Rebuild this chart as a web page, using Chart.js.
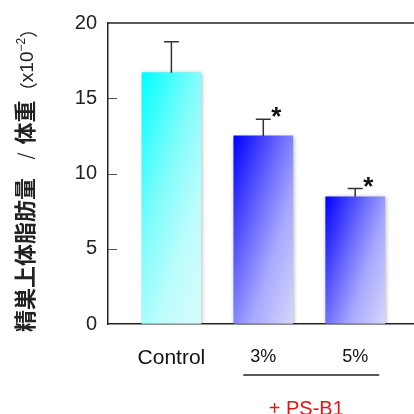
<!DOCTYPE html>
<html>
<head>
<meta charset="utf-8">
<script src="https://cdn.jsdelivr.net/npm/chart.js@4"></script>
<style>
  html, body { margin: 0; padding: 0; background: #fff; overflow: hidden; }
  #wrap { width: 414px; height: 414px; }
</style>
</head>
<body>
<div id="wrap"><canvas id="chart" width="414" height="414"></canvas></div>
<script>
const categories = ['Control', '3%', '5%'];
const xPositions = [1, 2, 3];
const means = [16.7, 12.5, 8.45];
const errors = [2.05, 1.1, 0.55];
const marks = ['', '*', '*'];
const yTicks = [0, 5, 10, 15, 20];

const INK = '#222';
const BAR_W = 59;

const cyanStops = [[0, '#00ffff'], [0.4, '#7ffcfc'], [0.7, '#bdfdfd'], [1, '#d8fbfb']];
const blueStops = [[0, '#0000ff'], [0.4, '#6a6aff'], [0.65, '#a8a8ff'], [1, '#d6d6f9']];

function barFill(ctx) {
  const chart = ctx.chart;
  const i = ctx.dataIndex;
  if (i === undefined || !chart.chartArea) return '#88f';
  const { x, y } = chart.scales;
  const left = x.getPixelForValue(xPositions[i]) - BAR_W / 2;
  const top = y.getPixelForValue(means[i]);
  const h = y.getPixelForValue(0) - top;
  const dx = 0.95, dy = 0.31;
  const L = BAR_W * dx + h * dy;
  const g = chart.ctx.createLinearGradient(left, top, left + dx * L, top + dy * L);
  (i === 0 ? cyanStops : blueStops).forEach(s => g.addColorStop(s[0], s[1]));
  return g;
}

const decor = {
  id: 'decor',
  beforeDatasetsDraw(chart) {
    const c = chart.ctx;
    c.save();
    c.shadowColor = 'rgba(0,0,0,0.3)';
    c.shadowBlur = 4;
    c.shadowOffsetX = 1;
    c.shadowOffsetY = 1;
  },
  afterDatasetsDraw(chart) {
    const c = chart.ctx;
    c.restore();
    const { x, y } = chart.scales;
    const area = chart.chartArea;

    // frame top + inner ticks
    c.save();
    c.strokeStyle = INK;
    c.lineWidth = 1.5;
    c.beginPath();
    c.moveTo(area.left, area.top);
    c.lineTo(area.right, area.top);
    c.stroke();
    c.lineWidth = 1;
    c.strokeStyle = '#555';
    yTicks.slice(1, -1).forEach(v => {
      const py = Math.round(y.getPixelForValue(v)) + 0.5;
      c.beginPath();
      c.moveTo(area.left, py);
      c.lineTo(area.left + 9, py);
      c.stroke();
    });

    // error bars + significance marks
    c.strokeStyle = '#333';
    c.lineWidth = 1.5;
    means.forEach((m, i) => {
      const cx = x.getPixelForValue(xPositions[i]);
      const y0 = y.getPixelForValue(m);
      const y1 = y.getPixelForValue(m + errors[i]);
      c.beginPath();
      c.moveTo(cx, y0);
      c.lineTo(cx, y1);
      c.moveTo(cx - 7.5, y1);
      c.lineTo(cx + 7.5, y1);
      c.stroke();
      if (marks[i]) {
        c.fillStyle = '#111';
        c.font = 'bold 26px "Liberation Sans"';
        c.textAlign = 'center';
        c.textBaseline = 'alphabetic';
        const mt = c.measureText(marks[i]);
        const base = y1 - 7 + (mt.actualBoundingBoxAscent - mt.actualBoundingBoxDescent) / 2;
        c.fillText(marks[i], cx + 13, base);
      }
    });
    c.restore();
  },
  afterDraw(chart) {
    const c = chart.ctx;
    const { x } = chart.scales;
    c.save();

    // bracket line under the treatment labels
    c.strokeStyle = INK;
    c.lineWidth = 1.5;
    c.beginPath();
    c.moveTo(x.getPixelForValue(2) - 20, 375);
    c.lineTo(x.getPixelForValue(3) + 24, 375);
    c.stroke();

    c.fillStyle = '#e41414';
    c.font = '20px "Liberation Sans"';
    c.textAlign = 'center';
    c.textBaseline = 'alphabetic';
    c.fillText('+ PS-B1', (x.getPixelForValue(2) + x.getPixelForValue(3)) / 2 - 3, 415);

    // rotated y title in pieces
    c.fillStyle = INK;
    c.textAlign = 'center';
    c.textBaseline = 'middle';
    const drawRot = (txt, font, cy) => {
      c.save();
      c.translate(25, cy);
      c.rotate(-Math.PI / 2);
      c.font = font;
      c.fillText(txt, 0, 0);
      c.restore();
    };
    drawRot('精巣上体脂肪量', 'bold 22px "Noto Sans CJK JP"', 255);
    drawRot('/', '18px "Noto Sans CJK JP"', 156);
    drawRot('体重', 'bold 22px "Noto Sans CJK JP"', 122.5);

    const parts = [
      ['（', '18px "Noto Sans CJK JP"', 0],
      ['x10', '19px "Liberation Sans"', 0],
      ['−2', '12px "Liberation Sans"', -6],
      ['）', '18px "Noto Sans CJK JP"', 0]
    ];
    c.save();
    c.translate(28, 60);
    c.rotate(-Math.PI / 2);
    c.textAlign = 'left';
    let total = 0;
    parts.forEach(p => { c.font = p[1]; total += c.measureText(p[0]).width; });
    let px = -total / 2;
    parts.forEach(p => {
      c.font = p[1];
      c.fillText(p[0], px, p[2]);
      px += c.measureText(p[0]).width;
    });
    c.restore();

    c.restore();
  }
};

new Chart(document.getElementById('chart'), {
  type: 'bar',
  data: {
    datasets: [{
      data: xPositions.map((v, i) => ({ x: v, y: means[i] })),
      backgroundColor: barFill,
      borderWidth: 0,
      barThickness: BAR_W
    }]
  },
  options: {
    responsive: false,
    animation: false,
    devicePixelRatio: 1,
    layout: { padding: { top: 21, right: 0, bottom: 0, left: 0 } },
    plugins: { legend: { display: false }, tooltip: { enabled: false } },
    scales: {
      x: {
        type: 'linear',
        offset: false,
        min: 0.31,
        max: 3.64,
        afterBuildTicks: s => { s.ticks = xPositions.map(v => ({ value: v })); },
        afterFit: s => { s.height = 90; },
        grid: { drawOnChartArea: false, drawTicks: false },
        border: { display: true, color: INK, width: 1.5 },
        ticks: {
          autoSkip: false,
          maxRotation: 0,
          padding: 22,
          color: '#111',
          font: ctx => ctx.index === 0
            ? { family: 'Liberation Sans', size: 21 }
            : { family: 'Liberation Sans', size: 18 },
          callback: v => categories[xPositions.indexOf(v)]
        }
      },
      y: {
        min: 0,
        max: 20,
        afterBuildTicks: s => { s.ticks = yTicks.map(v => ({ value: v })); },
        afterFit: s => { s.width = 108; },
        grid: { drawOnChartArea: false, drawTicks: false },
        border: { display: true, color: INK, width: 1.5 },
        ticks: {
          padding: 11,
          color: INK,
          font: { family: 'Liberation Sans', size: 20 }
        }
      }
    }
  },
  plugins: [decor]
});
</script>
</body>
</html>
